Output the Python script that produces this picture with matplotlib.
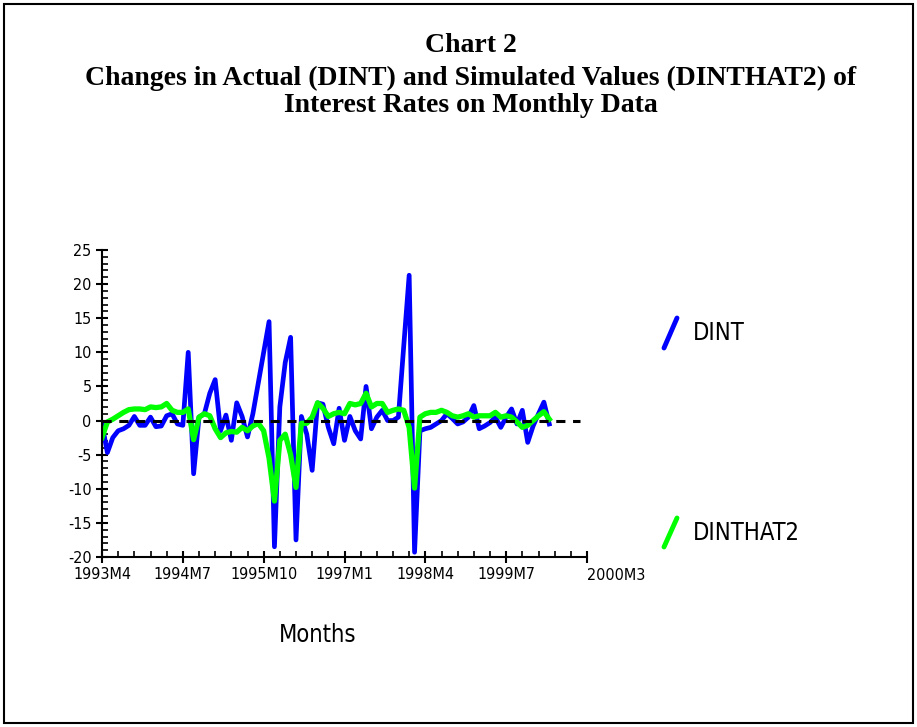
import matplotlib
matplotlib.use('Agg')
import matplotlib.pyplot as plt
from matplotlib import font_manager
from matplotlib.font_manager import FontProperties
from matplotlib.lines import Line2D
from matplotlib.patches import Rectangle
from matplotlib.ticker import MultipleLocator

plt.rcParams['axes.unicode_minus'] = False

# Data (monthly, first observation at 1993M4)
dint = [-0.5, -4.7, -2.5, -1.5, -1.2, -0.7, 0.6, -0.7, -0.7, 0.5,
        -0.9, -0.8, 0.7, 1.0, -0.5, -0.7, 10.0, -7.8, 0.5, 1.0,
        4.0, 6.0, -1.5, 0.8, -2.9, 2.6, 0.6, -2.4, 1.0, 5.5,
        10.0, 14.5, -18.5, 2.0, 8.5, 12.2, -17.5, 0.6, -2.0, -7.3,
        2.6, 2.4, -1.0, -3.4, 1.8, -2.9, 0.6, -1.5, -2.7, 5.0,
        -1.2, 0.5, 1.5, 0.0, 0.0, 0.5, 11.0, 21.3, -19.3, -1.5,
        -1.2, -1.0, -0.5, 0.0, 1.0, 0.3, -0.5, -0.2, 0.5, 2.2,
        -1.2, -0.8, -0.3, 0.5, -1.0, 0.5, 1.7, -0.5, 1.5, -3.2,
        -0.8, 1.0, 2.7, -0.5]
dinthat2 = [-2.5, -0.2, 0.2, 0.7, 1.2, 1.6, 1.7, 1.7, 1.6, 2.0,
            1.9, 2.0, 2.5, 1.5, 1.2, 1.2, 1.7, -2.8, 0.5, 1.0,
            0.7, -1.2, -2.5, -1.8, -1.6, -1.7, -1.0, -1.5, -0.8, -0.4,
            -1.5, -5.5, -11.8, -2.9, -2.0, -5.0, -9.8, -0.4, -0.4, 0.5,
            2.6, 1.8, 0.6, 1.0, 1.2, 1.0, 2.5, 2.3, 2.5, 4.0,
            2.0, 2.5, 2.5, 1.2, 1.5, 1.7, 1.5, -1.0, -9.9, 0.5,
            1.0, 1.2, 1.2, 1.5, 1.2, 0.7, 0.5, 0.7, 1.0, 0.5,
            0.7, 0.7, 0.7, 1.2, 0.5, 0.7, 0.5, -0.2, -1.0, -0.7,
            0.0, 0.7, 1.3, 0.2]
months = list(range(len(dint)))
tick_pos = [0, 15, 30, 45, 60, 75, 90]
tick_labels = ['1993M4', '1994M7', '1995M10', '1997M1', '1998M4', '1999M7', '']
last_label = '2000M3'

# pick a narrow sans font if there is one
fonts = {(f.name, f.stretch) for f in font_manager.fontManager.ttflist}
if any(n == 'Liberation Sans Narrow' for n, s in fonts):
    narrow = dict(family='Liberation Sans Narrow')
elif ('DejaVu Sans', 'condensed') in fonts:
    narrow = dict(family='DejaVu Sans', stretch='condensed')
else:
    narrow = dict(family='Liberation Sans')

W, H = 917, 727
fig = plt.figure(figsize=(W / 100, H / 100), dpi=100)
fig.add_artist(Rectangle((4 / W, 4 / H), 909 / W, 719 / H, transform=fig.transFigure,
                         fill=False, edgecolor='black', linewidth=1.5))

ax = fig.add_axes([102 / W, 1 - 557 / H, 485 / W, 307 / H])
ax.plot(months, dint, color='#0000ff', linewidth=3.4)
ax.plot(months, dinthat2, color='#00ff00', linewidth=3.8)
ax.plot([0, 88.7], [0, 0], color='black', linestyle=(0, (3, 2.5)), linewidth=2.2)

ax.set_xlim(0, 90)
ax.set_ylim(-20, 25)
ax.spines['top'].set_visible(False)
ax.spines['right'].set_visible(False)
ax.spines['left'].set_linewidth(1.5)
ax.spines['bottom'].set_linewidth(1.5)

ax.set_xticks(tick_pos)
ax.set_xticklabels(tick_labels)
ax.xaxis.set_minor_locator(MultipleLocator(3))
ax.yaxis.set_major_locator(MultipleLocator(5))
ax.yaxis.set_minor_locator(MultipleLocator(1))
ax.tick_params(which='major', direction='inout', length=9, width=1.5, pad=3)
ax.tick_params(which='minor', direction='in', length=4, width=1.2)

fp_tick = FontProperties(size=11.5, **narrow)
for lbl in ax.get_xticklabels() + ax.get_yticklabels():
    lbl.set_fontproperties(fp_tick)
ax.text(1.06, -0.035, last_label, transform=ax.transAxes,
        ha='center', va='top', fontproperties=fp_tick)

fp_big = FontProperties(size=17, **narrow)
fig.text(318 / W, 1 - 635 / H, 'Months', ha='center', va='center', fontproperties=fp_big)

# legend
fig.add_artist(Line2D([664 / W, 677 / W], [1 - 348 / H, 1 - 318 / H], transform=fig.transFigure,
                      color='#0000ff', linewidth=3.5, solid_capstyle='round'))
fig.text(693 / W, 1 - 333 / H, 'DINT', ha='left', va='center', fontproperties=fp_big)
fig.add_artist(Line2D([664 / W, 677 / W], [1 - 547 / H, 1 - 518 / H], transform=fig.transFigure,
                      color='#00ff00', linewidth=3.5, solid_capstyle='round'))
fig.text(693 / W, 1 - 533 / H, 'DINTHAT2', ha='left', va='center', fontproperties=fp_big)

# title
title_lines = ['Chart 2',
               'Changes in Actual (DINT) and Simulated Values (DINTHAT2) of',
               'Interest Rates on Monthly Data']
for line, y in zip(title_lines, [45, 78, 106]):
    fig.text(471 / W, 1 - y / H, line, ha='center', va='center', family='Liberation Serif',
             fontweight='bold', fontsize=20)

fig.savefig('out.png', dpi=100)
